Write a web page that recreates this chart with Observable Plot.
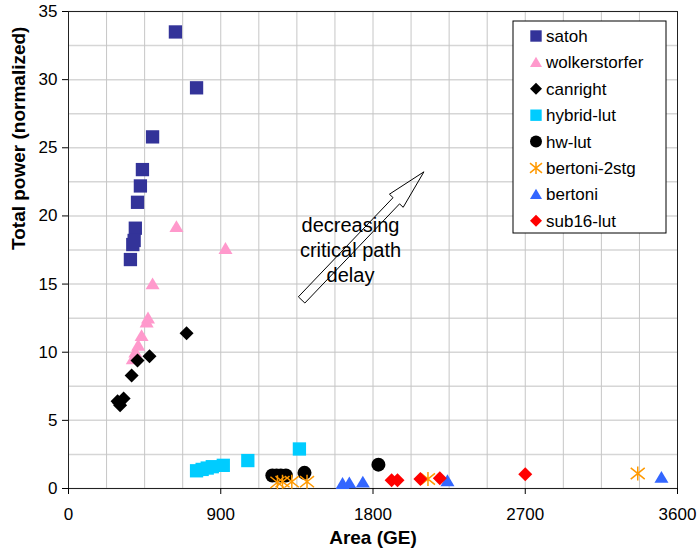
<!DOCTYPE html>
<html>
<head>
<meta charset="utf-8">
<script src="https://cdn.jsdelivr.net/npm/d3@7"></script>
<script src="https://cdn.jsdelivr.net/npm/@observablehq/plot@0.6"></script>
<style>
  html, body { margin: 0; padding: 0; background: #fff; }
  #chart svg { display: block; }
</style>
</head>
<body>
<div id="chart"></div>
<script>
// ---- data (Area in GE, Total power normalized) ----
const seriesNames = ["satoh", "wolkerstorfer", "canright", "hybrid-lut", "hw-lut", "bertoni-2stg", "bertoni", "sub16-lut"];
const seriesColors = ["#333399", "#ff99cc", "#000000", "#00ccff", "#000000", "#ff9900", "#3366ff", "#ff0000"];
const seriesShapes = ["square", "triangle", "diamond", "square", "circle", "asterisk", "triangle", "diamond"];

const satoh = [[632, 33.5], [757, 29.4], [497, 25.8], [437, 23.4], [425, 22.2], [408, 21.0], [395, 19.1], [388, 18.2], [380, 17.9], [366, 16.8]];
const wolkerstorfer = [[638, 19.2], [928, 17.6], [497, 15.0], [470, 12.5], [462, 12.2], [432, 11.2], [412, 10.5], [395, 10.0], [380, 9.5]];
const canright = [[698, 11.4], [479, 9.7], [408, 9.4], [373, 8.3], [326, 6.6], [290, 6.4], [305, 6.1], [298, 6.3]];
const hybridLut = [[757, 1.3], [790, 1.4], [820, 1.5], [850, 1.6], [915, 1.7], [1060, 2.05], [1365, 2.9]];
const hwLut = [[1205, 0.95], [1230, 0.95], [1255, 0.95], [1285, 0.95], [1395, 1.15], [1832, 1.75]];
const bertoni2stg = [[1235, 0.45], [1265, 0.5], [1320, 0.5], [1410, 0.5], [2125, 0.7], [3365, 1.1]];
const bertoni = [[1620, 0.35], [1660, 0.4], [1740, 0.45], [2240, 0.55], [3505, 0.8]];
const sub16Lut = [[1910, 0.6], [1945, 0.6], [2080, 0.7], [2195, 0.75], [2700, 1.05]];
const seriesData = [satoh, wolkerstorfer, canright, hybridLut, hwLut, bertoni2stg, bertoni, sub16Lut];

const xTicks = [0, 900, 1800, 2700, 3600];
const yTicks = [0, 5, 10, 15, 20, 25, 30, 35];
const xGrid = d3.range(0, 3601, 225);
const yGrid = d3.range(0, 35.01, 2.5);

const annotationText = "decreasing\ncritical path\ndelay";
const annotationAt = [1667, 17.6];
const arrowTail = [1381, 13.8];
const arrowTip = [2104, 23.2];

// ---- symbols ----
function hw(size) { return Math.sqrt(size / Math.PI); }
const symbols = {
  square: { draw(c, s) { const h = hw(s) * 0.95; c.rect(-h, -h, 2 * h, 2 * h); } },
  triangle: { draw(c, s) { const h = hw(s); c.moveTo(0, -h * 0.95); c.lineTo(h, h * 0.75); c.lineTo(-h, h * 0.75); c.closePath(); } },
  diamond: { draw(c, s) { const h = hw(s); c.moveTo(0, -h); c.lineTo(h, 0); c.lineTo(0, h); c.lineTo(-h, 0); c.closePath(); } },
  circle: { draw(c, s) { const h = hw(s); c.moveTo(h, 0); c.arc(0, 0, h, 0, 2 * Math.PI); } },
  asterisk: { draw(c, s) { const h = hw(s); const a = h * 0.8;
    c.moveTo(0, -h); c.lineTo(0, h);
    c.moveTo(-h, -a); c.lineTo(h, a);
    c.moveTo(-h, a); c.lineTo(h, -a); } }
};

const font = "'Liberation Sans', Arial, Helvetica, sans-serif";

const dotMarks = seriesData.map((data, i) => {
  const shape = seriesShapes[i];
  const isStroke = shape === "asterisk";
  return Plot.dot(data, {
    x: d => d[0], y: d => d[1],
    symbol: () => symbols[shape],
    r: 7,
    fill: isStroke ? "none" : seriesColors[i],
    stroke: isStroke ? seriesColors[i] : "none",
    strokeWidth: isStroke ? 1.5 : 0
  });
});

const plot = Plot.plot({
  width: 697,
  height: 557,
  marginLeft: 68,
  marginRight: 20,
  marginTop: 11,
  marginBottom: 69,
  style: { fontFamily: font, background: "#fff" },
  x: { domain: [0, 3600] },
  y: { domain: [0, 35] },
  symbol: { type: "identity" },
  marks: [
    Plot.ruleY(yGrid, { stroke: "#d6d6d6", strokeWidth: 1.5 }),
    Plot.ruleX(xGrid, { stroke: "#c6c6c6", strokeWidth: 1 }),
    Plot.frame({ stroke: "#222", strokeWidth: 1 }),
    Plot.axisX({ ticks: xTicks, tickSize: 6, tickPadding: 13, fontSize: 17, label: null, tickFormat: d => String(d), stroke: "#000" }),
    Plot.axisY({ ticks: yTicks, tickSize: 6, tickPadding: 5, fontSize: 17, label: null, stroke: "#000" }),
    Plot.text(["Area (GE)"], { frameAnchor: "bottom", dy: 55, text: d => d, fontSize: 19, fontWeight: "bold", fill: "#000" }),
    Plot.text(["Total power (normalized)"], { frameAnchor: "left", dx: -50, rotate: -90, text: d => d, fontSize: 19, fontWeight: "bold", fill: "#000" }),
    Plot.text([annotationAt], { x: d => d[0], y: d => d[1], text: () => annotationText, fontSize: 20, lineHeight: 1.25, fill: "#000" }),
    ...dotMarks
  ]
});

document.getElementById("chart").appendChild(plot);

// ---- block arrow via scales ----
const sx = plot.scale("x"), sy = plot.scale("y");
const svg = d3.select(plot);
(function drawArrow() {
  const x1 = sx.apply(arrowTail[0]), y1 = sy.apply(arrowTail[1]);
  const x2 = sx.apply(arrowTip[0]), y2 = sy.apply(arrowTip[1]);
  const dx = x2 - x1, dy = y2 - y1, L = Math.hypot(dx, dy);
  const ux = dx / L, uy = dy / L, px = -uy, py = ux;
  const sw = 4.5, hwid = 9.5, hl = 40;
  const bx = x2 - ux * hl, by = y2 - uy * hl;
  const pts = [
    [x1 + px * sw, y1 + py * sw],
    [bx + px * sw, by + py * sw],
    [bx + px * hwid, by + py * hwid],
    [x2, y2],
    [bx - px * hwid, by - py * hwid],
    [bx - px * sw, by - py * sw],
    [x1 - px * sw, y1 - py * sw]
  ];
  svg.append("polygon")
    .attr("points", pts.map(p => p.join(",")).join(" "))
    .attr("fill", "none").attr("stroke", "#000").attr("stroke-width", 1);
})();

// ---- legend ----
(function drawLegend() {
  const g = svg.append("g").attr("font-family", font).attr("font-size", 17).attr("text-anchor", "start");
  const left = 513, top = 21, w = 153, h = 212;
  g.append("rect").attr("x", left).attr("y", top).attr("width", w).attr("height", h)
    .attr("fill", "#fff").attr("stroke", "#000").attr("stroke-width", 1);
  seriesNames.forEach((name, i) => {
    const cy = 36 + i * 26.4;
    const shape = seriesShapes[i];
    const isStroke = shape === "asterisk";
    const path = d3.path();
    symbols[shape].draw(path, Math.PI * 6 * 6);
    g.append("path").attr("d", path.toString())
      .attr("transform", `translate(536,${cy})`)
      .attr("fill", isStroke ? "none" : seriesColors[i])
      .attr("stroke", isStroke ? seriesColors[i] : "none")
      .attr("stroke-width", isStroke ? 1.5 : 0);
    g.append("text").attr("x", 546).attr("y", cy).attr("dy", "0.35em").attr("fill", "#000")
      .attr("text-anchor", "start").text(name);
  });
})();
</script>
</body>
</html>
